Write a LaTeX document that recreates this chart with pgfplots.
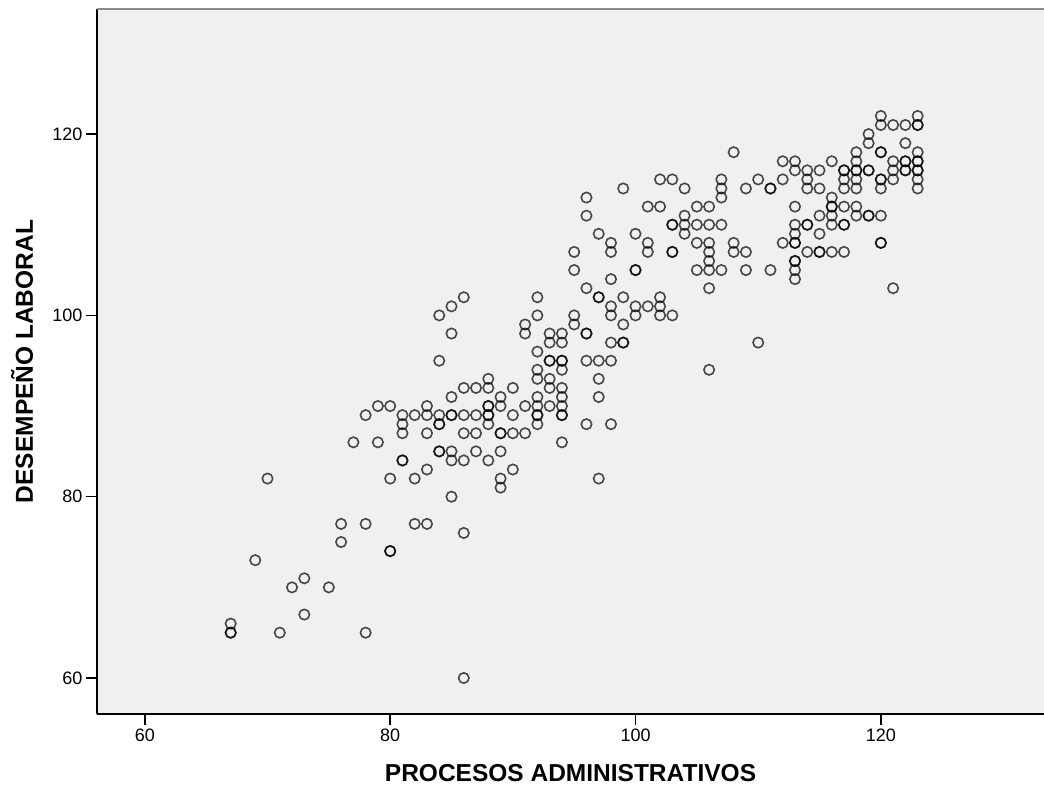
\documentclass[border=0pt]{standalone}
\usepackage{fontspec}
\setmainfont{Liberation Sans}
\usepackage{pgfplots}
\usepackage{pgfplotstable}
\pgfplotsset{compat=1.18}
\definecolor{bgc}{HTML}{F0F0F0}
\definecolor{topc}{HTML}{8C8C8C}
\pgfplotstableread{
x y
67 66
67 65
67 65
69 73
70 82
71 65
72 70
73 71
73 67
75 70
76 77
76 75
77 86
78 77
78 65
79 86
80 82
80 74
80 74
81 84
81 84
82 82
82 77
83 83
83 77
84 85
84 85
85 85
85 84
85 80
86 84
86 76
86 60
78 89
79 90
80 90
81 89
81 88
81 87
82 89
96 103
98 104
86 102
92 102
97 102
97 102
99 102
102 102
85 101
98 101
100 101
101 101
102 101
84 100
92 100
95 100
98 100
100 100
102 100
103 100
91 99
95 99
99 99
85 98
91 98
93 98
94 98
96 98
96 98
93 97
94 97
98 97
99 97
99 97
92 96
84 95
93 95
93 95
94 95
94 95
96 95
97 95
98 95
92 94
94 94
88 93
92 93
93 93
97 93
86 92
87 92
88 92
90 92
93 92
94 92
85 91
89 91
92 91
94 91
97 91
83 90
88 90
88 90
89 90
91 90
92 90
93 90
94 90
83 89
84 89
85 89
85 89
86 89
87 89
88 89
88 89
90 89
92 89
92 89
94 89
94 89
84 88
84 88
88 88
92 88
96 88
98 88
83 87
86 87
87 87
89 87
89 87
90 87
91 87
94 86
87 85
89 85
88 84
90 83
89 82
97 82
89 81
102 115
103 115
104 114
99 114
96 113
96 111
101 112
102 112
104 111
103 110
103 110
104 110
104 109
97 109
100 109
98 108
101 108
95 107
98 107
101 107
103 107
103 107
95 105
100 105
100 105
120 122
123 122
120 121
121 121
122 121
123 121
123 121
119 120
119 119
122 119
108 118
118 118
120 118
120 118
123 118
112 117
113 117
116 117
118 117
121 117
122 117
122 117
123 117
123 117
113 116
114 116
115 116
117 116
117 116
118 116
118 116
119 116
119 116
121 116
122 116
122 116
123 116
123 116
107 115
110 115
112 115
114 115
117 115
118 115
120 115
120 115
121 115
123 115
107 114
109 114
111 114
111 114
114 114
115 114
117 114
118 114
120 114
123 114
107 113
116 113
105 112
106 112
113 112
116 112
116 112
117 112
118 112
115 111
116 111
118 111
119 111
119 111
120 111
105 110
106 110
107 110
113 110
114 110
114 110
116 110
117 110
117 110
113 109
115 109
105 108
106 108
108 108
112 108
113 108
113 108
120 108
120 108
106 107
108 107
109 107
114 107
115 107
115 107
116 107
117 107
106 106
113 106
113 106
105 105
106 105
107 105
109 105
111 105
113 105
113 104
106 103
121 103
110 97
106 94
}\pts
\begin{document}
\begin{tikzpicture}[x=1pt,y=1pt]
\path[use as bounding box] (0,0) rectangle (1044,785);
\begin{axis}[
  at={(97pt,71pt)}, anchor=south west,
  scale only axis, width=947pt, height=705pt,
  xmin=56.1, xmax=133.3, ymin=56.03, ymax=133.8,
  axis x line=bottom, axis y line=left,
  axis line style={black, line width=1.4pt, -},
  axis background/.style={fill=bgc},
  xtick={60,80,100,120}, ytick={60,80,100,120},
  tick align=outside, major tick length=11pt,
  tick style={black, line width=1.4pt},
  minor tick num=0,
  ticklabel style={font=\fontsize{18}{20}\selectfont},
  /pgf/number format/assume math mode=true,
  clip=false,
]
\addplot[only marks, mark=o, mark size=5.2pt,
  mark options={draw=black, draw opacity=0.7, line width=1.6pt}]
  table[x=x, y=y] {\pts};
\draw[topc, line width=1.6pt] (rel axis cs:0,1) -- (rel axis cs:1,1);
\end{axis}
\node[font=\fontsize{24.5}{28}\selectfont\bfseries] at (570.5,12) {PROCESOS ADMINISTRATIVOS};
\node[rotate=90, font=\fontsize{24.5}{28}\selectfont\bfseries] at (22,423.5) {DESEMPEÑO LABORAL};
\end{tikzpicture}
\end{document}
